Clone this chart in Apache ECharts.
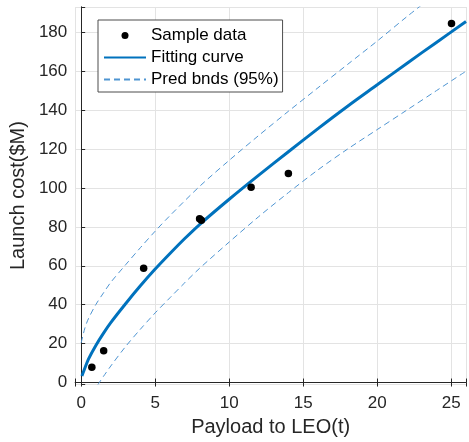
<!DOCTYPE html>
<html>
<head>
<meta charset="utf-8">
<script src="https://cdn.jsdelivr.net/npm/echarts@6/dist/echarts.min.js"></script>
<style>
    html, body { margin: 0; padding: 0; background: #fff; }
    #main { width: 469px; height: 442px; }
</style>
</head>
<body>
<div id="main"></div>
<script>
    // sample points
    var sampleX = [0.72, 1.52, 4.22, 8.0, 8.12, 11.48, 14.0, 25.02];
    var sampleY = [7.8, 16.3, 58.8, 84.2, 83.4, 100.4, 107.4, 184.5];

    // fitted curve, traced
    var fitX = [0.05, 0.25, 0.5, 1, 1.5, 2, 3, 4, 5, 6, 7, 8, 10, 12, 14, 16, 18, 20, 22, 24, 26];
    var fitY = [3.4, 7.5, 12.2, 19.2, 25.3, 30.8, 40.5, 49.7, 58.3, 66.3, 74, 81.2, 94.2, 106.6, 118.6, 130.5, 142, 153, 164, 174.8, 185.5];

    // prediction bounds, traced
    var upperX = [0, 0.25, 0.5, 1, 1.5, 2, 3, 4, 5, 6, 8, 10, 12, 14, 16, 18, 20, 22, 24];
    var upperY = [20.4, 28, 33, 40.2, 46, 51.5, 60.5, 69.3, 77.8, 85.8, 100.8, 114.2, 127, 139.4, 151.5, 163.5, 175.5, 188, 200];
    var lowerX = [1.1, 1.5, 2, 3, 4, 5, 6, 7, 8, 10, 12, 14, 16, 18, 20, 22, 24, 26];
    var lowerY = [-1.4, 3.1, 8.5, 18.5, 27.4, 35.8, 43.6, 51.3, 58.7, 72.2, 85.3, 97.6, 109.3, 120, 130, 140, 150, 160];

    var legendNames = ['Sample data', 'Fitting curve', 'Pred bnds (95%)'];

    function pairs(xs, ys) {
        return xs.map(function (x, i) { return [x, ys[i]]; });
    }

    var font = 'Liberation Sans, Arial, Helvetica, sans-serif';
    var ink = '#262626';
    var fitColor = '#0072BD';
    var bndColor = '#4f95d2';

    var myChart = echarts.init(document.getElementById('main'));
    myChart.setOption({
        animation: false,
        backgroundColor: '#fff',
        grid: { left: 71, right: 0, top: 7, bottom: 54 },
        legend: {
            data: [
                { name: legendNames[0] },
                { name: legendNames[1], itemStyle: { opacity: 0 } },
                { name: legendNames[2], itemStyle: { opacity: 0 } }
            ],
            orient: 'vertical',
            left: 98,
            top: 20,
            itemWidth: 42,
            itemHeight: 7,
            itemGap: 5,
            padding: [7, 4, 4, 5],
            backgroundColor: '#fff',
            borderColor: '#4d4d4d',
            borderWidth: 1,
            borderRadius: 0,
            textStyle: { fontFamily: font, fontSize: 17, color: '#000', lineHeight: 17 }
        },
        xAxis: [
            {
                type: 'value',
                min: -0.4,
                max: 26,
                name: 'Payload to LEO(t)',
                nameLocation: 'middle',
                nameGap: 28,
                nameTextStyle: { fontFamily: font, fontSize: 20, color: ink },
                axisLine: { lineStyle: { color: ink, width: 1 } },
                axisTick: { inside: true, length: 4, lineStyle: { color: ink } },
                axisLabel: {
                    fontFamily: font, fontSize: 17, color: ink, margin: 11,
                    formatter: function (v) { return v % 5 === 0 ? v : ''; }
                },
                splitLine: { show: true, lineStyle: { color: '#e3e3e3', width: 1 } }
            },
            {
                type: 'value',
                position: 'top',
                min: -0.4,
                max: 26,
                axisLine: { show: true, lineStyle: { color: ink, width: 1 } },
                axisTick: { inside: true, length: 4, lineStyle: { color: ink } },
                axisLabel: { show: false },
                splitLine: { show: false }
            }
        ],
        yAxis: [
            {
                type: 'value',
                min: -0.8,
                max: 193,
                splitNumber: 10,
                name: 'Launch cost($M)',
                nameLocation: 'middle',
                nameGap: 41,
                nameTextStyle: { fontFamily: font, fontSize: 20, color: ink },
                axisLine: { show: true, lineStyle: { color: ink, width: 1 } },
                axisTick: { show: true, inside: true, length: 4, lineStyle: { color: ink } },
                axisLabel: {
                    fontFamily: font, fontSize: 17, color: ink, margin: 8,
                    formatter: function (v) { return v % 20 === 0 ? v : ''; }
                },
                splitLine: { show: true, lineStyle: { color: '#e3e3e3', width: 1 } }
            },
            {
                type: 'value',
                position: 'right',
                min: -0.8,
                max: 193,
                splitNumber: 10,
                axisLine: { show: true, lineStyle: { color: ink, width: 1 } },
                axisTick: { show: false },
                axisLabel: { show: false },
                splitLine: { show: false }
            }
        ],
        series: [
            {
                name: legendNames[2],
                type: 'line',
                data: pairs(upperX, upperY),
                smooth: 0.3,
                showSymbol: false,
                symbol: 'none',
                clip: true,
                color: bndColor,
                lineStyle: { color: bndColor, width: 1, type: [6, 4] },
                z: 2
            },
            {
                name: legendNames[2],
                type: 'line',
                data: pairs(lowerX, lowerY),
                smooth: 0.3,
                showSymbol: false,
                symbol: 'none',
                clip: true,
                color: bndColor,
                lineStyle: { color: bndColor, width: 1, type: [6, 4] },
                z: 2
            },
            {
                name: legendNames[1],
                type: 'line',
                data: pairs(fitX, fitY),
                smooth: 0.3,
                showSymbol: false,
                symbol: 'none',
                clip: true,
                color: fitColor,
                lineStyle: { color: fitColor, width: 3 },
                z: 3
            },
            {
                name: legendNames[0],
                type: 'scatter',
                data: pairs(sampleX, sampleY),
                symbol: 'circle',
                symbolSize: 7.5,
                color: '#000',
                itemStyle: { color: '#000', opacity: 1 },
                z: 4
            }
        ]
    });
</script>
</body>
</html>
